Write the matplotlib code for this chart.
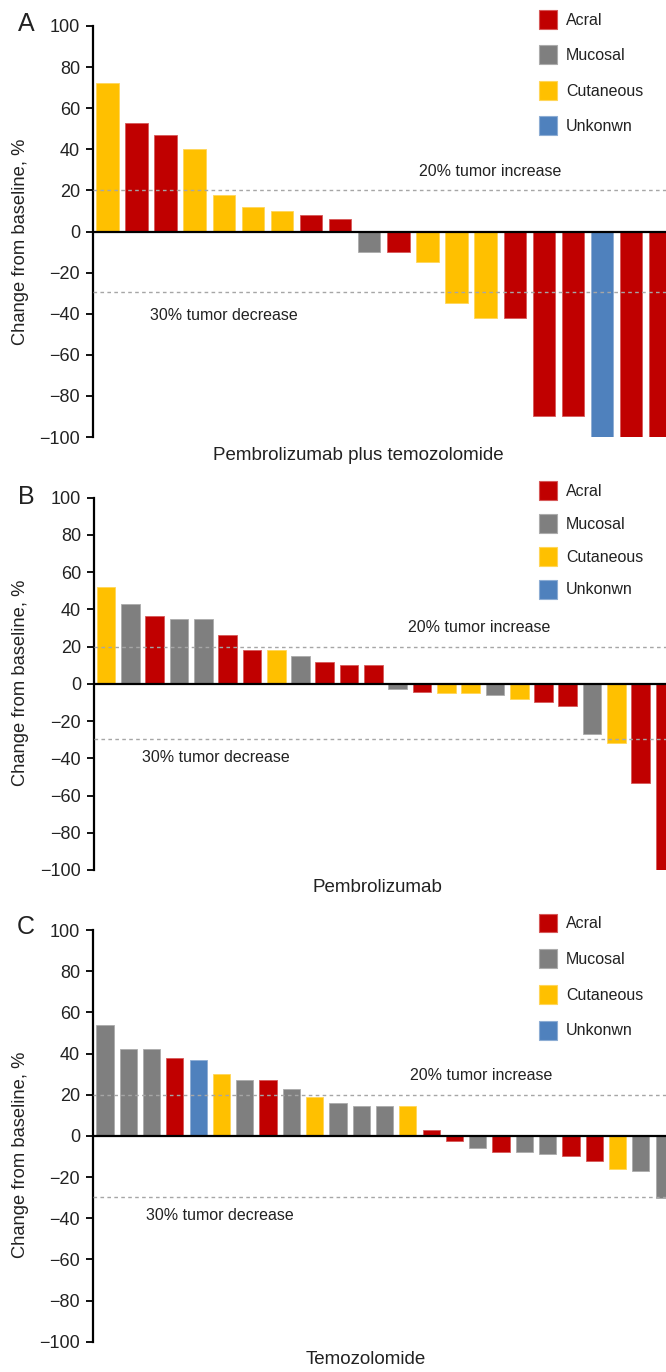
import matplotlib
matplotlib.use("Agg")
import matplotlib.pyplot as plt
from matplotlib.patches import Patch
import matplotlib.colors as mcolors

plt.rcParams['font.family'] = ['Liberation Sans', 'DejaVu Sans']

# ---------------- data ----------------
categories = ["Acral", "Mucosal", "Cutaneous", "Unkonwn"]
cat_colors = {"Acral": "#C00000", "Mucosal": "#7F7F7F",
              "Cutaneous": "#FFC000", "Unkonwn": "#4F81BD"}

a_types = ["Cutaneous", "Acral", "Acral", "Cutaneous", "Cutaneous", "Cutaneous",
           "Cutaneous", "Acral", "Acral", "Mucosal", "Acral", "Cutaneous",
           "Cutaneous", "Cutaneous", "Acral", "Acral", "Acral", "Unkonwn",
           "Acral", "Acral"]
a_values = [72.5, 53, 47, 40, 18, 12, 10, 8, 6, -10, -10, -15,
            -35, -42, -42, -90, -90, -100, -100, -100]

b_types = ["Cutaneous", "Mucosal", "Acral", "Mucosal", "Mucosal", "Acral",
           "Acral", "Cutaneous", "Mucosal", "Acral", "Acral", "Acral",
           "Mucosal", "Acral", "Cutaneous", "Cutaneous", "Mucosal", "Cutaneous",
           "Acral", "Acral", "Mucosal", "Cutaneous", "Acral", "Acral"]
b_values = [52, 43, 36.5, 35, 35, 26, 18, 18, 14.8, 12, 10, 10,
            -2.8, -4.2, -5.1, -5.1, -6.1, -8.2, -10, -12, -27, -32, -53, -100]

c_types = ["Mucosal", "Mucosal", "Mucosal", "Acral", "Unkonwn", "Cutaneous",
           "Mucosal", "Acral", "Mucosal", "Cutaneous", "Mucosal", "Mucosal",
           "Mucosal", "Cutaneous", "Acral", "Acral", "Mucosal", "Acral",
           "Mucosal", "Mucosal", "Acral", "Acral", "Cutaneous", "Mucosal",
           "Mucosal"]
c_values = [54, 42, 42, 38, 37, 30, 27, 27, 23, 19, 15.8, 14.7,
            14.7, 14.7, 3, -2.7, -6, -8, -8, -9, -10, -12, -16, -17, -30]

panel_letters = ["A", "B", "C"]
xlabels = ["Pembrolizumab plus temozolomide", "Pembrolizumab", "Temozolomide"]
yticks = [-100, -80, -60, -40, -20, 0, 20, 40, 60, 80, 100]
ylabel = "Change from baseline, %"
increase_line, decrease_line = 20, -29.6
increase_text, decrease_text = "20% tumor increase", "30% tumor decrease"

# ---------------- layout (pixels) ----------------
W, H = 666, 1372
fig = plt.figure(figsize=(W / 100, H / 100), dpi=100)

panels = [
    dict(ax_x=92.5, top=26, bot=437, sp=29.1, off=0.51, bw=0.77,
         inc=(490, 172), dec=(224, 315), leg_top=10, leg_sp=1.03,
         letter=(26, 24), ylab_y=242, xlab=(358, 455)),
    dict(ax_x=93.5, top=497.7, bot=870, sp=24.3, off=0.52, bw=0.77,
         inc=(479, 627), dec=(216, 758), leg_top=481, leg_sp=0.87,
         letter=(26, 497), ylab_y=683, xlab=(377, 888)),
    dict(ax_x=92.6, top=930, bot=1341.7, sp=23.3, off=0.53, bw=0.74,
         inc=(481, 1076), dec=(220, 1215), leg_top=913.5, leg_sp=1.05,
         letter=(26, 927), ylab_y=1155, xlab=(366, 1360)),
]
data = [(a_types, a_values), (b_types, b_values), (c_types, c_values)]

def lighten(c, f=0.35):
    r, g, b = mcolors.to_rgb(c)
    return (r + (1 - r) * f, g + (1 - g) * f, b + (1 - b) * f)

text_color = "#222222"
right_px = 720

for p, (types, vals), letter, xl in zip(panels, data, panel_letters, xlabels):
    left = p["ax_x"] / W
    width = (right_px - p["ax_x"]) / W
    bottom = 1 - p["bot"] / H
    height = (p["bot"] - p["top"]) / H
    ax = fig.add_axes([left, bottom, width, height])
    n = len(vals)
    x = list(range(n))
    cols = [cat_colors[t] for t in types]
    ax.bar(x, vals, width=p["bw"], color=cols,
           edgecolor=[lighten(c) for c in cols], linewidth=0.6, zorder=2)
    ax.set_ylim(-100, 100)
    ax.set_xlim(-p["off"], -p["off"] + (right_px - p["ax_x"]) / p["sp"])
    ax.axhline(0, color="black", lw=1.6, zorder=4)
    for yv in (increase_line, decrease_line):
        ax.axhline(yv, color="#A6A6A6", lw=1.0, ls=(0, (2.6, 2.4)), zorder=3)
    for s in ("top", "right", "bottom"):
        ax.spines[s].set_visible(False)
    ax.spines["left"].set_linewidth(1.6)
    ax.spines["left"].set_color("black")
    ax.set_yticks(yticks)
    ax.set_xticks([])
    ax.tick_params(axis="y", length=5, width=1.3, pad=4, labelsize=13,
                   labelcolor=text_color, direction="out")
    ax.patch.set_alpha(0)

    fig.text(p["inc"][0] / W, 1 - p["inc"][1] / H, increase_text,
             fontsize=11.5, color=text_color, ha="center", va="center")
    fig.text(p["dec"][0] / W, 1 - p["dec"][1] / H, decrease_text,
             fontsize=11.5, color=text_color, ha="center", va="center")
    fig.text(p["letter"][0] / W, 1 - p["letter"][1] / H, letter,
             fontsize=18, color=text_color, ha="center", va="center")
    fig.text(21 / W, 1 - p["ylab_y"] / H, ylabel, rotation=90,
             fontsize=13.2, color=text_color, ha="center", va="center")
    fig.text(p["xlab"][0] / W, 1 - p["xlab"][1] / H, xl,
             fontsize=13.5, color=text_color, ha="center", va="center")

    handles = [Patch(facecolor=cat_colors[c], edgecolor=lighten(cat_colors[c]),
                     linewidth=0.8, label=c) for c in categories]
    leg = fig.legend(handles=handles, loc="upper left",
                     bbox_to_anchor=(538.7 / W, 1 - p["leg_top"] / H),
                     frameon=False, fontsize=11.5, handlelength=1.17,
                     handleheight=1.45, handletextpad=0.55,
                     labelspacing=p["leg_sp"], borderpad=0, borderaxespad=0)
    for t in leg.get_texts():
        t.set_color(text_color)

fig.savefig("out.png", dpi=100)
